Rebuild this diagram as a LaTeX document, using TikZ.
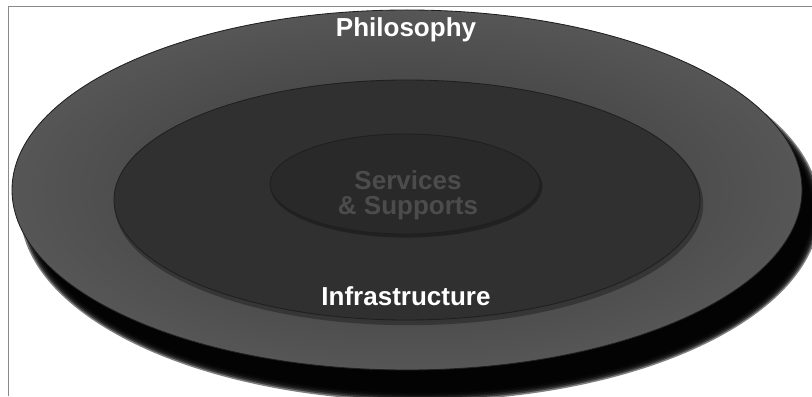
\documentclass[tikz,border=0pt]{standalone}
\usepackage{fontspec}
\setmainfont{Liberation Sans}
\usepackage{tikz}
\usetikzlibrary{positioning}
\definecolor{discrim}{HTML}{565656}
\definecolor{discface}{HTML}{363636}
\definecolor{discmid}{HTML}{303030}
\definecolor{disccore}{HTML}{292929}
\definecolor{coretext}{HTML}{4C4C4C}
\definecolor{framegray}{HTML}{8A8A8A}

\begin{document}
\begin{tikzpicture}[
  font=\bfseries\fontsize{18.5}{17.8}\selectfont,
  ringlabel/.style={text=white,inner sep=0pt},
  corelabel/.style={text=coretext,align=center,inner sep=0pt},
  ringedge/.style={draw=black!88,line width=0.6pt}
]
  \useasboundingbox (0,0) rectangle (20.3,9.9);

  % page frame
  \draw[framegray,line width=0.5pt] (0.2,0) -- (0.2,9.75) -- (20.3,9.75);

  % soft shadow under the disc
  \foreach \k in {1,...,6}
    \fill[black,opacity=0.5] (10.5,4.65)
      ellipse ({9.8+0.24-0.04*\k} and {4.575+0.24-0.04*\k});

  % Outer ring: philosophy
  \path[ringedge,inner color=discface,outer color=discrim]
    (10.175,5.15) ellipse (9.875 and 4.5);

  % Middle ring: infrastructure
  \fill[black,opacity=0.3] (10.22,4.8) ellipse (7.36 and 3.03);
  \path[ringedge,fill=discmid] (10.175,4.9) ellipse (7.325 and 3.0);

  % Core: services and supports
  \fill[black,opacity=0.3] (10.16,5.24) ellipse (3.4 and 1.28);
  \path[ringedge,fill=disccore] (10.125,5.3) ellipse (3.375 and 1.25);

  \node[ringlabel,anchor=base] (philo) at (10.15,8.975) {Philosophy};
  \node[ringlabel,anchor=base] (infra) at (10.15,2.275) {Infrastructure};
  \node[corelabel] (core) at (10.2,5.02) {Services\\\& Supports};
\end{tikzpicture}
\end{document}
